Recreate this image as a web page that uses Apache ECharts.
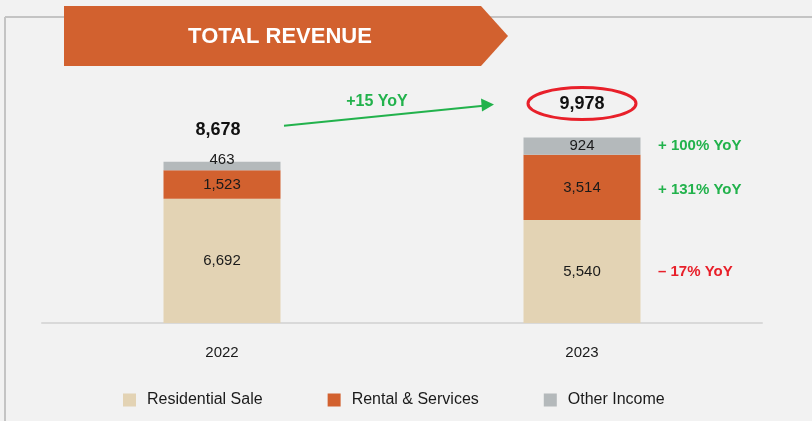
<!DOCTYPE html>
<html><head><meta charset="utf-8">
<script src="https://cdn.jsdelivr.net/npm/echarts@6/dist/echarts.min.js"></script>
<style>html,body{margin:0;padding:0;background:#f2f2f2}#c{width:812px;height:421px}</style>
</head><body><div id="c"></div>
<script>
const categories = ['2022', '2023'];
const residentialSale = [6692, 5540];
const rentalServices = [1523, 3514];
const otherIncome = [463, 924];
const totals = [8678, 9978];
const yoyLabels = ['+ 100% YoY', '+ 131% YoY', '\u2013 17% YoY'];
const growthLabel = '+15 YoY';
const titleText = 'TOTAL REVENUE';

const FONT = '"Liberation Sans", Arial, sans-serif';
const fmt = v => v.toLocaleString('en-US');
const chart = echarts.init(document.getElementById('c'), null, {renderer: 'canvas'});

const labelBase = {show: true, position: 'inside', color: '#1a1a1a', fontSize: 15, fontFamily: FONT, formatter: p => fmt(p.value)};
const option = {
  backgroundColor: '#f2f2f2',
  animation: false,
  grid: {left: 42, right: 50, top: 100, bottom: 98},
  xAxis: {type: 'category', data: categories,
    axisLine: {lineStyle: {color: '#d9d9d9', width: 2}}, axisTick: {show: false},
    axisLabel: {color: '#1a1a1a', fontSize: 15, fontFamily: FONT, margin: 22}},
  yAxis: {type: 'value', min: 0, max: 12000, show: false, splitLine: {show: false}},
  legend: {bottom: 8, left: 118, itemWidth: 13, itemHeight: 13, itemGap: 65,
    textStyle: {fontSize: 16, color: '#1a1a1a', fontFamily: FONT, padding: [0, 0, 0, 6]}, icon: 'rect',
    data: ['Residential Sale', 'Rental & Services', 'Other Income']},
  series: [
    {name: 'Residential Sale', type: 'bar', stack: 't', barWidth: 117, data: residentialSale,
      itemStyle: {color: '#e3d3b4'}, label: labelBase},
    {name: 'Rental & Services', type: 'bar', stack: 't', data: rentalServices,
      itemStyle: {color: '#d2612f'}, label: labelBase},
    {name: 'Other Income', type: 'bar', stack: 't',
      data: otherIncome.map((v, i) => i === 0 ? {value: v, label: {offset: [0, -6]}} : v),
      itemStyle: {color: '#b4b9bb'}, label: labelBase}
  ]
};
chart.setOption(option);

const px = (i, v) => chart.convertToPixel({xAxisIndex: 0, yAxisIndex: 0}, [i, v]);
const g = [];
// panel frame
g.push({type: 'line', shape: {x1: 5, y1: 17, x2: 812, y2: 17}, style: {stroke: '#c4c4c4', lineWidth: 2}, z: 1});
g.push({type: 'line', shape: {x1: 5, y1: 17, x2: 5, y2: 421}, style: {stroke: '#c4c4c4', lineWidth: 2}, z: 1});
// banner
g.push({type: 'polygon', shape: {points: [[64, 6], [481, 6], [508, 36], [481, 66], [64, 66]]}, style: {fill: '#d2612f'}, z: 2});
g.push({type: 'text', x: 280, y: 37, style: {text: titleText, fill: '#fff', font: 'bold 22px ' + FONT, align: 'center', verticalAlign: 'middle'}, z: 3});
// totals
const t0 = px(0, totals[0]), t1 = px(1, totals[1]);
g.push({type: 'text', x: t0[0] - 4, y: t0[1] - 32, style: {text: fmt(totals[0]), fill: '#111', font: 'bold 18px ' + FONT, align: 'center', verticalAlign: 'middle'}, z: 3});
g.push({type: 'text', x: t1[0], y: t1[1] - 34, style: {text: fmt(totals[1]), fill: '#111', font: 'bold 18px ' + FONT, align: 'center', verticalAlign: 'middle'}, z: 3});
g.push({type: 'ellipse', shape: {cx: t1[0], cy: t1[1] - 34, rx: 54, ry: 16}, style: {stroke: '#e8202a', fill: null, lineWidth: 3}, z: 3});
// growth arrow
const a0 = [t0[0] + 62, t0[1] - 36], a1 = [t1[0] - 88, t1[1] - 33];
g.push({type: 'line', shape: {x1: a0[0], y1: a0[1], x2: a1[0] - 8, y2: a1[1] + 1}, style: {stroke: '#22b24c', lineWidth: 2}, z: 3});
g.push({type: 'polygon', shape: {points: [[a1[0], a1[1]], [a1[0] - 13, a1[1] - 6], [a1[0] - 12, a1[1] + 7]]}, style: {fill: '#22b24c'}, z: 3});
g.push({type: 'text', x: (a0[0] + a1[0]) / 2 - 12, y: a1[1] - 3, style: {text: growthLabel, fill: '#22b24c', font: 'bold 16px ' + FONT, align: 'center', verticalAlign: 'middle'}, z: 3});
// YoY annotations for 2023 segments
const mids = [residentialSale[1] + rentalServices[1] + otherIncome[1] / 2, residentialSale[1] + rentalServices[1] / 2, residentialSale[1] / 2];
const cols = ['#22b24c', '#22b24c', '#e8202a'];
mids.forEach((m, k) => {
  const p = px(1, m);
  g.push({type: 'text', x: p[0] + 76, y: p[1] + (k === 1 ? 2 : 0), style: {text: yoyLabels[k], fill: cols[k], font: 'bold 15px ' + FONT, align: 'left', verticalAlign: 'middle'}, z: 3});
});
chart.setOption({graphic: {elements: g}});
</script></body></html>
